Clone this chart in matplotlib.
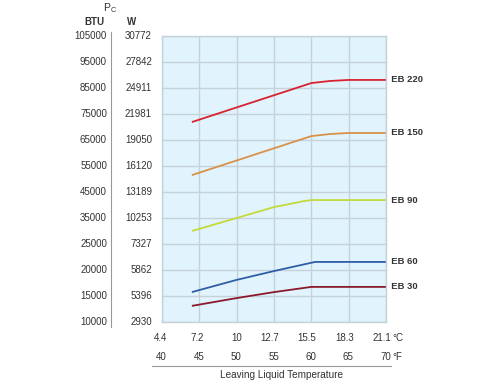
import numpy as np
import matplotlib
matplotlib.use("Agg")
import matplotlib.pyplot as plt
from matplotlib.transforms import blended_transform_factory, ScaledTranslation
from matplotlib.lines import Line2D

plt.rcParams['font.family'] = ['Liberation Sans', 'DejaVu Sans']

# ---- data ----
btu_ticks = [10000, 15000, 20000, 25000, 35000, 45000, 55000, 65000, 75000, 85000, 95000, 105000]
w_ticks = ['2930', '5396', '5862', '7327', '10253', '13189', '16120', '19050', '21981', '24911', '27842', '30772']
f_ticks = [40, 45, 50, 55, 60, 65, 70]
c_ticks = ['4.4', '7.2', '10', '12.7', '15.5', '18.3', '21.1']

eb220_x = [44, 60, 62.5, 65, 70]
eb220_y = [71900, 86900, 87700, 88100, 88100]
eb150_x = [44, 60, 62.5, 65, 70]
eb150_y = [51500, 66500, 67300, 67700, 67700]
eb90_x = [44, 50, 55, 59, 60, 70]
eb90_y = [30000, 35000, 39200, 41500, 41900, 41900]
eb60_x = [44, 50, 55, 60.5, 70]
eb60_y = [15750, 18100, 19800, 21550, 21550]
eb30_x = [44, 50, 55, 60, 70]
eb30_y = [13100, 14600, 15750, 16750, 16750]

series = [
    ('EB 220', eb220_x, eb220_y, '#d8232f'),
    ('EB 150', eb150_x, eb150_y, '#d9914a'),
    ('EB 90', eb90_x, eb90_y, '#c3da3a'),
    ('EB 60', eb60_x, eb60_y, '#2f5ea6'),
    ('EB 30', eb30_x, eb30_y, '#8a1a2b'),
]

W, H = 500, 382
fig = plt.figure(figsize=(W / 100, H / 100), dpi=100)
ax = fig.add_axes([162 / W, 1 - 322 / H, 224 / W, 286 / H])

pos = np.arange(len(btu_ticks), dtype=float)
def fwd(v):
    return np.interp(v, btu_ticks, pos)
def inv(p):
    return np.interp(p, pos, btu_ticks)
ax.set_yscale('function', functions=(fwd, inv))
ax.set_ylim(btu_ticks[0], btu_ticks[-1])
ax.set_xlim(f_ticks[0], f_ticks[-1])

ax.set_facecolor('#e1f3fc')
gridc = '#c6d2da'
ax.set_xticks(f_ticks)
ax.set_yticks(btu_ticks)
ax.grid(True, color=gridc, lw=1.0)
ax.tick_params(length=0, labelbottom=False, labelleft=False)
for s in ax.spines.values():
    s.set_color(gridc)
    s.set_linewidth(1.0)

txtc = '#333333'
for name, xs, ys, col in series:
    ax.plot(xs, ys, color=col, lw=1.3, solid_capstyle='butt')
    ax.text(1.0, ys[-1], '  ' + name, transform=blended_transform_factory(ax.transAxes, ax.transData),
            ha='left', va='center', fontsize=6.8, fontweight='bold', color=txtc)

# y labels
fs = 7
ty = blended_transform_factory(fig.transFigure, ax.transData)
for b, w in zip(btu_ticks, w_ticks):
    ax.text(107 / W, b, str(b), transform=ty, ha='right', va='center', fontsize=fs, color=txtc)
    ax.text(152 / W, b, w, transform=ty, ha='right', va='center', fontsize=fs, color=txtc)
fig.text(94 / W, 1 - 22 / H, 'BTU', ha='center', va='center', fontsize=fs, fontweight='bold', color=txtc)
fig.text(132 / W, 1 - 22 / H, 'W', ha='center', va='center', fontsize=fs, fontweight='bold', color=txtc)
fig.text(110 / W, 1 - 8 / H, r'P$_\mathregular{C}$', ha='center', va='center', fontsize=7.5, color=txtc)
fig.add_artist(Line2D([111 / W, 111 / W], [1 - 32 / H, 1 - 327 / H], color='#999999', lw=0.8))

# x labels
tx = blended_transform_factory(ax.transData, fig.transFigure) + ScaledTranslation(5 / 100, 0, fig.dpi_scale_trans)
for f, c in zip(f_ticks, c_ticks):
    ax.text(f, 1 - 338 / H, c, transform=tx, ha='right', va='center', fontsize=fs, color=txtc)
    ax.text(f, 1 - 357 / H, str(f), transform=tx, ha='right', va='center', fontsize=fs, color=txtc)
fig.text(392 / W, 1 - 338 / H, '°C', ha='left', va='center', fontsize=fs, color=txtc)
fig.text(392 / W, 1 - 357 / H, '°F', ha='left', va='center', fontsize=fs, color=txtc)
fig.add_artist(Line2D([152 / W, 391 / W], [1 - 366 / H, 1 - 366 / H], color='#999999', lw=0.8))
fig.text(281 / W, 1 - 375 / H, 'Leaving Liquid Temperature', ha='center', va='center', fontsize=7.2, color=txtc)

fig.savefig('out.png', dpi=100, facecolor='white')
